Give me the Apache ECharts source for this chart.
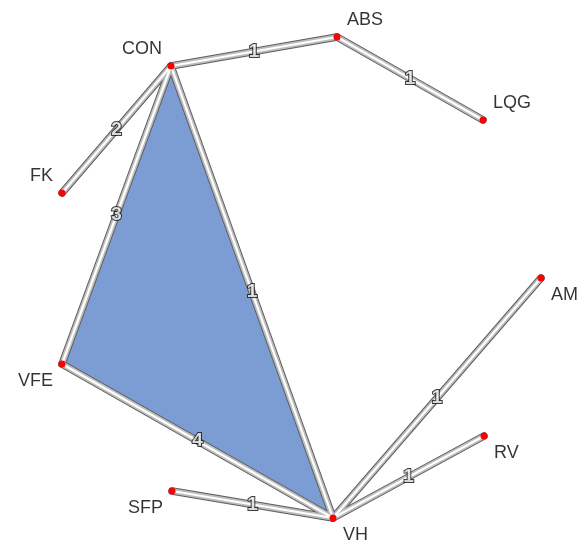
<!DOCTYPE html>
<html>
<head>
<meta charset="utf-8">
<script src="https://cdn.jsdelivr.net/npm/echarts@6/dist/echarts.min.js"></script>
<style>
  html, body { margin: 0; padding: 0; background: #ffffff; }
  #chart { width: 584px; height: 547px; }
</style>
</head>
<body>
<div id="chart"></div>
<script>
// Network layout: node names and their layout coordinates
const nodeNames = ['CON', 'ABS', 'LQG', 'FK', 'VFE', 'VH', 'SFP', 'RV', 'AM'];
const nodeX = [171, 337, 483, 62, 62, 333, 172, 484, 541];
const nodeY = [66, 37, 120, 193, 364, 518, 491, 436, 278];

// Links between nodes with their weights
const edgeSource = ['CON', 'ABS', 'CON', 'CON', 'CON', 'VFE', 'SFP', 'VH', 'VH'];
const edgeTarget = ['ABS', 'LQG', 'FK', 'VFE', 'VH', 'VH', 'VH', 'AM', 'RV'];
const edgeWeight = [1, 1, 2, 3, 1, 4, 1, 1, 1];

// Closed triangle (3-clique) shaded in the layout
const cliqueNodes = ['CON', 'VFE', 'VH'];

const idx = name => nodeNames.indexOf(name);
const pos = name => [nodeX[idx(name)], nodeY[idx(name)]];

// centre of the layout, used to push node labels outward
const cx = 300, cy = 272;

const nodes = nodeNames.map((n, i) => ({ name: n, value: [nodeX[i], nodeY[i]] }));
const links = edgeSource.map((s, i) => ({ source: s, target: edgeTarget[i], value: edgeWeight[i] }));

function edgeLayer(width, color, withNodes, z) {
  return {
    type: 'graph',
    layout: 'none',
    coordinateSystem: 'cartesian2d',
    z: z,
    silent: true,
    symbol: 'circle',
    symbolSize: withNodes ? 7 : 0,
    itemStyle: { color: '#ff0000' },
    label: { show: false },
    data: nodes,
    links: links,
    lineStyle: { width: width, color: color, opacity: 1, curveness: 0, cap: 'round' },
    emphasis: { disabled: true }
  };
}

const edgeMid = links.map(l => {
  const a = pos(l.source), b = pos(l.target);
  return { value: [(a[0] + b[0]) / 2, (a[1] + b[1]) / 2], w: l.value };
});

const nodeLabelData = nodeNames.map((n, i) => {
  const right = nodeX[i] >= cx;
  const below = nodeY[i] >= cy;
  return {
    value: [nodeX[i], nodeY[i]],
    name: n,
    label: {
      align: right ? 'left' : 'right',
      offset: [right ? 10 : -9, below ? 17 : -17]
    }
  };
});

const chart = echarts.init(document.getElementById('chart'), null, { renderer: 'canvas' });

chart.setOption({
  backgroundColor: '#ffffff',
  animation: false,
  grid: { left: 0, right: 0, top: 0, bottom: 0 },
  xAxis: { type: 'value', min: 0, max: 584, show: false },
  yAxis: { type: 'value', min: 0, max: 547, inverse: true, show: false },
  series: [
    {
      type: 'custom',
      z: 1,
      silent: true,
      data: [0],
      renderItem: function (params, api) {
        const pts = cliqueNodes.map(n => api.coord(pos(n)));
        return {
          type: 'polygon',
          shape: { points: pts },
          style: { fill: '#7b9dd3', stroke: null }
        };
      }
    },
    edgeLayer(7.5, '#5e5e5e', false, 2),
    edgeLayer(5.5, '#bdbdbd', false, 3),
    edgeLayer(2.2, '#ffffff', true, 4),
    {
      type: 'scatter',
      z: 6,
      silent: true,
      symbolSize: 0,
      data: edgeMid,
      label: {
        show: true,
        position: 'inside',
        formatter: p => String(p.data.w),
        fontFamily: '"Liberation Sans", Arial, sans-serif',
        fontSize: 19,
        fontWeight: 'bold',
        color: '#ffffff',
        textBorderColor: '#111111',
        textBorderWidth: 2
      }
    },
    {
      type: 'scatter',
      z: 6,
      silent: true,
      symbolSize: 0,
      data: nodeLabelData,
      label: {
        show: true,
        position: 'inside',
        verticalAlign: 'middle',
        formatter: p => p.name,
        fontFamily: '"Liberation Sans", Arial, sans-serif',
        fontSize: 18,
        color: '#000000'
      }
    }
  ]
});
</script>
</body>
</html>
